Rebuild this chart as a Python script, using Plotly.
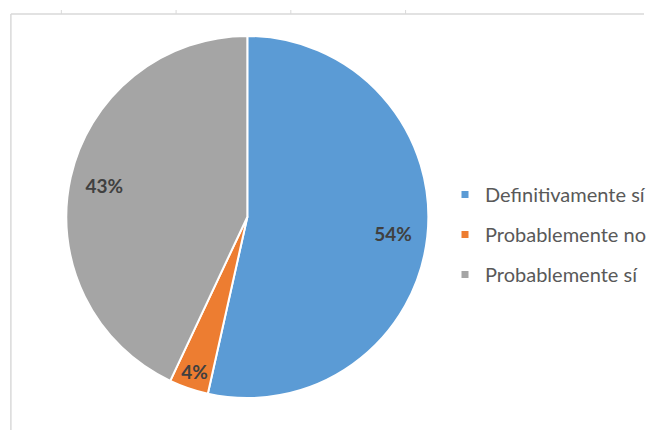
import plotly.graph_objects as go

labels = ["Definitivamente sí", "Probablemente no", "Probablemente sí"]
values = [53.5, 3.5, 43.0]
colors = ["#5B9BD5", "#ED7D31", "#A5A5A5"]
tick_x = [62, 178, 294, 410]

W, H = 651, 430
dom = dict(x=[67 / W, 433 / W], y=[1 - 400 / H, 1 - 34 / H])

fig = go.Figure()

# main pie (slices)
fig.add_trace(go.Pie(
    labels=labels, values=values, sort=False, direction="clockwise", rotation=0,
    marker=dict(colors=colors, line=dict(color="white", width=2)),
    textinfo="none", domain=dom, showlegend=False, hoverinfo="label+percent",
))

# transparent ring used only to place the percentage labels near the rim
fig.add_trace(go.Pie(
    labels=labels, values=values, sort=False, direction="clockwise", rotation=0,
    hole=0.62,
    marker=dict(colors=["rgba(0,0,0,0)"] * len(labels), line=dict(width=0)),
    texttemplate="%{percent:.0%}", textposition="inside",
    insidetextorientation="horizontal",
    textfont=dict(family="Lato", size=19, color="#404040", weight="bold"),
    domain=dom, showlegend=False, hoverinfo="skip",
))

# legend entries
for lab, col in zip(labels, colors):
    fig.add_trace(go.Scatter(
        x=[None], y=[None], mode="markers", name=lab, legendgroup=lab,
        marker=dict(symbol="square", size=7, color=col), hoverinfo="skip",
    ))

shapes = [
    dict(type="line", xref="paper", yref="paper", x0=11 / W, x1=1, y0=1 - 14 / H, y1=1 - 14 / H,
         line=dict(color="#D9D9D9", width=1.5)),
    dict(type="line", xref="paper", yref="paper", x0=11 / W, x1=11 / W, y0=0, y1=1 - 14 / H,
         line=dict(color="#D9D9D9", width=1.5)),
]
for tx in tick_x:
    shapes.append(dict(type="line", xref="paper", yref="paper", x0=tx / W, x1=tx / W,
                       y0=1 - 14 / H, y1=1 - 10 / H, line=dict(color="#D9D9D9", width=1)))

fig.update_layout(
    width=W, height=H,
    margin=dict(l=0, r=0, t=0, b=0),
    paper_bgcolor="white", plot_bgcolor="rgba(0,0,0,0)",
    xaxis=dict(visible=False), yaxis=dict(visible=False),
    shapes=shapes,
    showlegend=True,
    legend=dict(x=450 / W, y=1 - 175 / H, xanchor="left", yanchor="top",
                tracegroupgap=11,
                font=dict(family="Lato", size=20, color="#595959"),
                bgcolor="rgba(0,0,0,0)"),
)

fig.write_html("out.html", config={"displayModeBar": False},
               post_script="document.body.style.margin='0';document.body.style.overflow='hidden';")
